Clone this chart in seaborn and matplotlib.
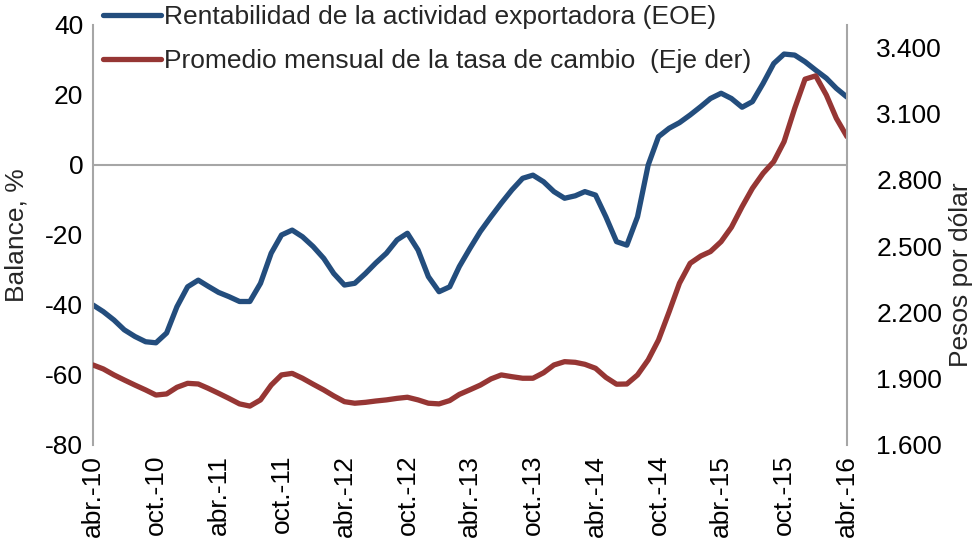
import numpy as np
import pandas as pd
import matplotlib
matplotlib.use("Agg")
import matplotlib.pyplot as plt
from matplotlib.ticker import FuncFormatter
import seaborn as sns

# ---------------- data ----------------
start_month = "2010-04-01"
n_months = 73
eoe = [-40, -41.9, -44.3, -47.1, -49, -50.5, -50.8, -48, -40.5, -34.8,
       -32.9, -34.6, -36.4, -37.6, -39, -39, -33.8, -25.2, -20, -18.6,
       -20.5, -23.3, -26.7, -31, -34.3, -33.8, -31, -28, -25.2, -21.4,
       -19.5, -24.3, -31.9, -36.2, -34.8, -29, -23.8, -19, -14.8, -10.9,
       -7.1, -3.8, -2.9, -4.8, -7.6, -9.5, -8.8, -7.6, -8.6, -14.8,
       -21.9, -22.9, -14.8, 0, 8.1, 10.5, 12.1, 14.3, 16.7, 19,
       20.5, 19, 16.5, 18.1, 23.3, 29, 31.7, 31.4, 29.5, 27.1,
       24.8, 21.9, 19.4]
tasa = [1962, 1944, 1917, 1894, 1871, 1849, 1826, 1831, 1861, 1879,
        1876, 1857, 1834, 1811, 1786, 1776, 1804, 1871, 1917, 1924,
        1902, 1875, 1849, 1822, 1796, 1789, 1793, 1799, 1804, 1811,
        1816, 1804, 1789, 1786, 1801, 1829, 1850, 1871, 1899, 1917,
        1909, 1902, 1902, 1927, 1962, 1977, 1974, 1965, 1947, 1906,
        1875, 1876, 1917, 1985, 2075, 2203, 2332, 2422, 2455, 2475,
        2520, 2585, 2678, 2761, 2829, 2882, 2972, 3123, 3255, 3270,
        3183, 3078, 2995]
tick_labels = ["abr.-10", "oct.-10", "abr.-11", "oct.-11", "abr.-12", "oct.-12",
               "abr.-13", "oct.-13", "abr.-14", "oct.-14", "abr.-15", "oct.-15",
               "abr.-16"]
label_eoe = "Rentabilidad de la actividad exportadora (EOE)"
label_tasa = "Promedio mensual de la tasa de cambio  (Eje der)"

fechas = pd.date_range(start_month, periods=n_months, freq="MS")
df = pd.DataFrame({"fecha": fechas, "eoe": eoe, "tasa": tasa})

# ---------------- style ----------------
sns.set_style("white")
plt.rcParams["font.family"] = ["Liberation Sans", "DejaVu Sans"]
plt.rcParams["axes.unicode_minus"] = False
FS = 19
BLUE = "#234D7D"
RED = "#963634"
GRAY = "#A6A6A6"

fig = plt.figure(figsize=(9.77, 5.44), dpi=100)
ax = fig.add_axes([93 / 977, 1 - 445 / 544, (847 - 93) / 977, (445 - 25) / 544])
ax2 = ax.twinx()

sns.lineplot(data=df, x="fecha", y="eoe", ax=ax, color=BLUE, lw=3.8,
             label=label_eoe, legend=False, solid_joinstyle="round",
             solid_capstyle="round")
sns.lineplot(data=df, x="fecha", y="tasa", ax=ax2, color=RED, lw=3.8,
             label=label_tasa, legend=False, solid_joinstyle="round",
             solid_capstyle="round")

ax.axhline(0, color=GRAY, lw=1.5, zorder=0)

ax.set_ylim(-80, 40)
ax.set_yticks(range(-80, 41, 20))
ax2.set_ylim(1600, 3500)
ax2.set_yticks(range(1600, 3401, 300))
ax2.yaxis.set_major_formatter(FuncFormatter(lambda v, p: f"{v:,.0f}".replace(",", ".")))

tick_dates = pd.date_range(start_month, periods=len(tick_labels), freq="6MS")
ax.set_xlim(fechas[0], fechas[-1])
ax.set_xticks(tick_dates)
ax.set_xticklabels(tick_labels, rotation=90)

for a in (ax, ax2):
    for s in a.spines.values():
        s.set_visible(False)
    a.grid(False)
ax.spines["left"].set_visible(True)
ax.spines["left"].set_color(GRAY)
ax.spines["left"].set_linewidth(1.5)
ax2.spines["right"].set_visible(True)
ax2.spines["right"].set_color(GRAY)
ax2.spines["right"].set_linewidth(1.5)

ax.tick_params(axis="y", length=0, pad=7, labelsize=FS, colors="black")
ax.tick_params(axis="x", length=0, pad=7, labelsize=FS, colors="black")
ax2.tick_params(axis="y", length=0, pad=21, labelsize=FS, colors="black")

ax.set_xlabel("")
ax.set_ylabel("Balance, %", fontsize=FS)
ax.yaxis.set_label_coords(-0.086, 0.5)
ax2.set_ylabel("Pesos por dólar", fontsize=FS)
ax2.yaxis.set_label_coords(1.135, 0.405)

handles = ax.get_lines()[:1] + ax2.get_lines()[:1]
fig.legend(handles, [label_eoe, label_tasa], loc="upper left",
           bbox_to_anchor=(103 / 977, 1 - 5 / 544), frameon=False, fontsize=FS,
           handlelength=2.2, handletextpad=0.12, labelspacing=0.75,
           borderpad=0.0, borderaxespad=0.0)

fig.savefig("out.png", dpi=100)
